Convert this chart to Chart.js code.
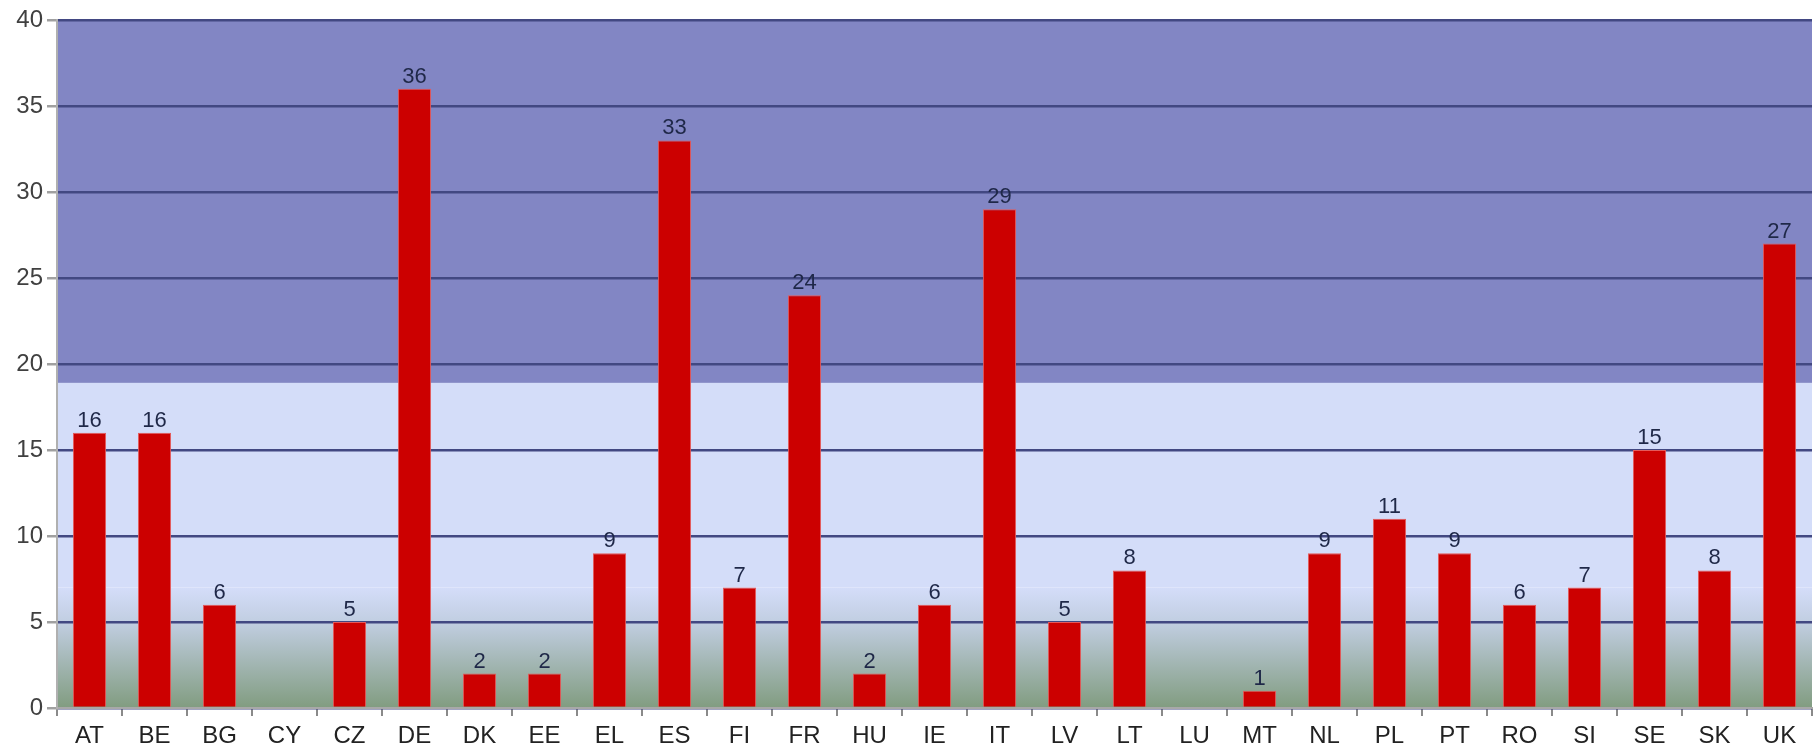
<!DOCTYPE html>
<html>
<head>
<meta charset="utf-8">
<script src="https://cdn.jsdelivr.net/npm/chart.js@4.4.0/dist/chart.umd.min.js"></script>
<style>
  html, body { margin: 0; padding: 0; background: #ffffff; }
  #wrap { width: 1816px; height: 753px; position: relative; }
</style>
</head>
<body>
<div id="wrap"><canvas id="chart"></canvas></div>
<script>
// ── Data ──────────────────────────────────────────────────────────
var COUNTRIES = ['AT', 'BE', 'BG', 'CY', 'CZ', 'DE', 'DK', 'EE', 'EL', 'ES', 'FI', 'FR', 'HU', 'IE',
                 'IT', 'LV', 'LT', 'LU', 'MT', 'NL', 'PL', 'PT', 'RO', 'SI', 'SE', 'SK', 'UK'];
var VALUES = [16, 16, 6, null, 5, 36, 2, 2, 9, 33, 7, 24, 2, 6,
              29, 5, 8, null, 1, 9, 11, 9, 6, 7, 15, 8, 27];
var Y_TICKS = [0, 5, 10, 15, 20, 25, 30, 35, 40];

// background bands (value units)
var BAND_HIGH = 18.9;   // dark blue above this
var BAND_FADE = 7;      // light blue fades to grey-green below this

var FONT = '"Liberation Sans", Arial, sans-serif';

// ── Plugins ───────────────────────────────────────────────────────
var bandsPlugin = {
  id: 'bands',
  beforeDraw: function (chart) {
    var ctx = chart.ctx, a = chart.chartArea, y = chart.scales.y;
    var yTop = y.getPixelForValue(40), yHigh = y.getPixelForValue(BAND_HIGH);
    var yFade = y.getPixelForValue(BAND_FADE), yZero = y.getPixelForValue(0);
    ctx.save();
    ctx.fillStyle = '#8286c4';
    ctx.fillRect(a.left, yTop, a.right - a.left, yHigh - yTop);
    ctx.fillStyle = '#d4ddf9';
    ctx.fillRect(a.left, yHigh, a.right - a.left, yFade - yHigh);
    var g = ctx.createLinearGradient(0, yFade, 0, yZero);
    g.addColorStop(0, '#d4ddf9');
    g.addColorStop(0.3, '#c0cde0');
    g.addColorStop(1, '#819c80');
    ctx.fillStyle = g;
    ctx.fillRect(a.left, yFade, a.right - a.left, yZero - yFade);
    ctx.restore();
  }
};

var labelsPlugin = {
  id: 'barLabels',
  afterDatasetsDraw: function (chart) {
    var ctx = chart.ctx;
    var meta = chart.getDatasetMeta(0);
    ctx.save();
    ctx.font = '22px ' + FONT;
    ctx.fillStyle = '#1f2848';
    ctx.textAlign = 'center';
    ctx.textBaseline = 'bottom';
    meta.data.forEach(function (bar, i) {
      var v = VALUES[i];
      if (v === null) return;
      ctx.fillText(String(v), bar.x, bar.y - 1);
    });
    ctx.restore();
  }
};

// ── Chart ─────────────────────────────────────────────────────────
new Chart(document.getElementById('chart'), {
  type: 'bar',
  data: {
    labels: COUNTRIES,
    datasets: [{
      data: VALUES,
      backgroundColor: '#cc0000',
      borderColor: '#e55a5a',
      borderWidth: 1,
      barPercentage: 0.51,
      categoryPercentage: 1.0
    }]
  },
  options: {
    responsive: true,
    maintainAspectRatio: false,
    animation: false,
    layout: { padding: { top: 20, right: 4, left: 0, bottom: 0 } },
    plugins: { legend: { display: false }, tooltip: { enabled: false } },
    scales: {
      x: {
        afterFit: function (s) { s.height = 45; },
        grid: {
          offset: true,
          drawOnChartArea: false,
          tickLength: 8,
          tickColor: '#8a8a8a',
          lineWidth: 2
        },
        border: { color: '#a8a8a8', width: 2 },
        ticks: { font: { family: FONT, size: 24 }, color: '#222222', padding: 6 }
      },
      y: {
        min: 0,
        max: 40,
        afterFit: function (s) { s.width = 57; },
        afterBuildTicks: function (s) { s.ticks = Y_TICKS.map(function (v) { return { value: v }; }); },
        grid: {
          color: '#424882',
          lineWidth: 2.5,
          tickColor: '#a0a0a0',
          tickLength: 10
        },
        border: { color: '#b0b0b0', width: 2 },
        ticks: { font: { family: FONT, size: 24 }, color: '#404040', padding: 4 }
      }
    }
  },
  plugins: [bandsPlugin, labelsPlugin]
});
</script>
</body>
</html>
